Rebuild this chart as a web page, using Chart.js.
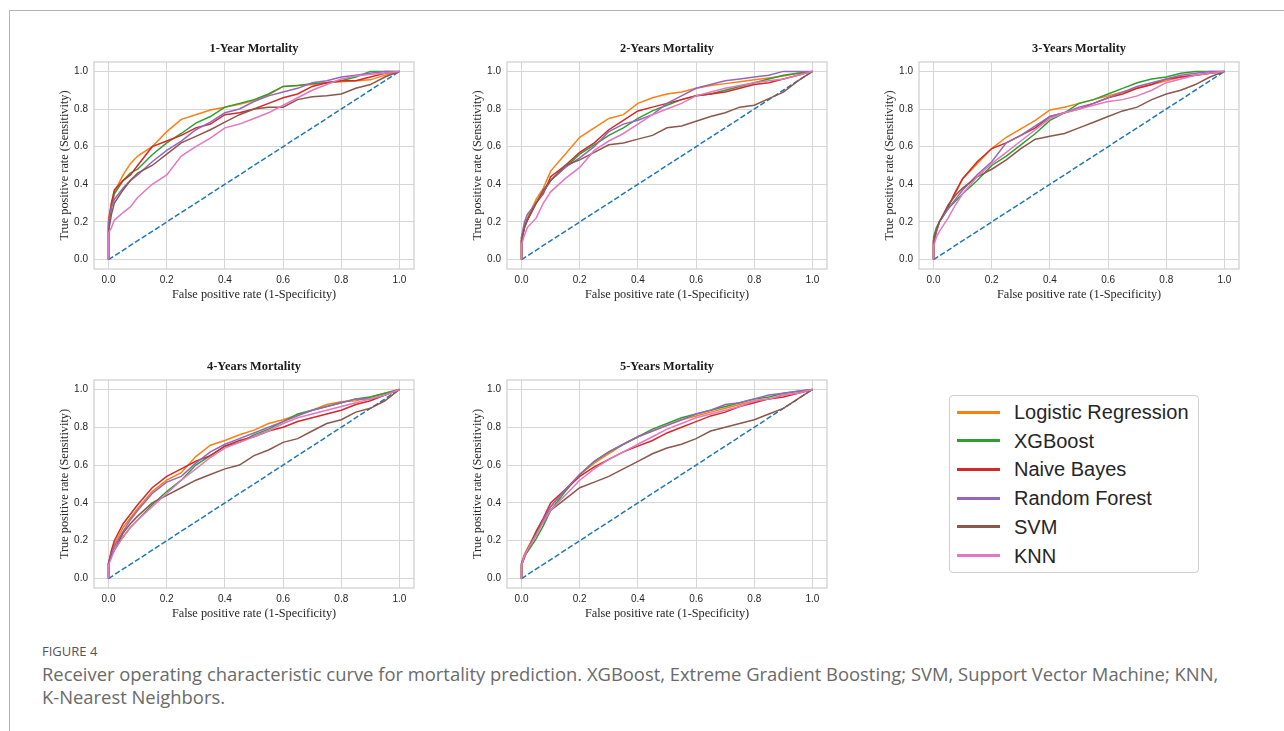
<!DOCTYPE html>
<html>
<head>
<meta charset="utf-8">
<script src="https://cdn.jsdelivr.net/npm/chart.js@4.4.1/dist/chart.umd.min.js"></script>
<style>
  html, body { margin:0; padding:0; background:#fff; }
  body { width:1284px; height:731px; position:relative; overflow:hidden; }
  #frame { position:absolute; left:9px; top:10px; right:0; bottom:0; border-top:1px solid #b4b4b4; border-left:1px solid #b4b4b4; }
  canvas { position:absolute; }
  #legend { position:absolute; left:949px; top:395px; width:248px; height:176px; border:1px solid #cfcfcf; border-radius:4px; background:#fff; }
  .lrow { position:absolute; left:0; height:24px; width:248px; }
  .lsw { position:absolute; left:7px; top:10.5px; width:43px; height:3px; }
  .ltx { position:absolute; left:64px; top:0; line-height:24px; font-family:"Liberation Sans", Arial, sans-serif; font-size:20px; color:#262626; white-space:nowrap; }
  #figlab { position:absolute; left:42px; top:643px; font-family:"Open Sans", sans-serif; font-size:13px; line-height:16px; color:#555; }
  #caption { position:absolute; left:42px; top:662px; font-family:"Open Sans", sans-serif; font-size:18.4px; line-height:23px; color:#6a6a6a; white-space:nowrap; }
</style>
</head>
<body>
<div id="frame"></div>
<div id="legend"></div>
<div id="figlab">FIGURE 4</div>
<div id="caption">Receiver operating characteristic curve for mortality prediction. XGBoost, Extreme Gradient Boosting; SVM, Support Vector Machine; KNN,<br>K-Nearest Neighbors.</div>
<script>
// ---------------- DATA ----------------
const MODELS = ["Logistic Regression", "XGBoost", "Naive Bayes", "Random Forest", "SVM", "KNN"];
const TITLES = ["1-Year Mortality", "2-Years Mortality", "3-Years Mortality", "4-Years Mortality", "5-Years Mortality"];
const X_LABEL = "False positive rate (1-Specificity)";
const Y_LABEL = "True positive rate (Sensitivity)";
const TICKS = [0, 0.2, 0.4, 0.6, 0.8, 1.0];
const CHANCE_X = [0, 1];
const CHANCE_Y = [0, 1];

// shared false-positive-rate grid (first point is the origin)
const FPR = [0, 0, 0.01, 0.02, 0.05, 0.075, 0.1, 0.15, 0.2, 0.25, 0.3, 0.35, 0.4, 0.45, 0.5, 0.55, 0.6, 0.65, 0.7, 0.75, 0.8, 0.85, 0.9, 0.95, 1.0];

// 1-Year
const Y1_LR  = [0, 0.22, 0.30, 0.36, 0.45, 0.51, 0.55, 0.60, 0.68, 0.745, 0.77, 0.795, 0.81, 0.825, 0.845, 0.875, 0.92, 0.925, 0.93, 0.94, 0.945, 0.95, 0.955, 0.98, 1.0];
const Y1_XGB = [0, 0.18, 0.28, 0.35, 0.42, 0.46, 0.48, 0.557, 0.62, 0.67, 0.725, 0.76, 0.81, 0.83, 0.85, 0.88, 0.92, 0.925, 0.935, 0.94, 0.95, 0.97, 1.0, 1.0, 1.0];
const Y1_NB  = [0, 0.20, 0.30, 0.37, 0.42, 0.45, 0.50, 0.60, 0.63, 0.66, 0.70, 0.72, 0.77, 0.78, 0.80, 0.83, 0.86, 0.88, 0.92, 0.94, 0.95, 0.95, 0.97, 0.99, 1.0];
const Y1_RF  = [0, 0.20, 0.28, 0.32, 0.38, 0.42, 0.45, 0.52, 0.58, 0.63, 0.69, 0.73, 0.78, 0.80, 0.84, 0.87, 0.89, 0.91, 0.94, 0.95, 0.97, 0.98, 0.99, 1.0, 1.0];
const Y1_SVM = [0, 0.15, 0.24, 0.30, 0.37, 0.42, 0.46, 0.50, 0.56, 0.62, 0.655, 0.69, 0.73, 0.77, 0.80, 0.81, 0.81, 0.85, 0.865, 0.87, 0.88, 0.91, 0.93, 0.97, 1.0];
const Y1_KNN = [0, 0.14, 0.17, 0.21, 0.25, 0.28, 0.33, 0.40, 0.45, 0.55, 0.60, 0.645, 0.70, 0.72, 0.75, 0.78, 0.82, 0.86, 0.90, 0.93, 0.96, 0.975, 0.985, 0.99, 1.0];

// 2-Years
const Y2_LR  = [0, 0.12, 0.18, 0.22, 0.32, 0.38, 0.47, 0.56, 0.65, 0.70, 0.75, 0.77, 0.83, 0.86, 0.88, 0.89, 0.91, 0.925, 0.935, 0.945, 0.955, 0.965, 0.975, 0.99, 1.0];
const Y2_XGB = [0, 0.12, 0.17, 0.21, 0.30, 0.36, 0.42, 0.49, 0.56, 0.61, 0.66, 0.70, 0.75, 0.79, 0.82, 0.85, 0.87, 0.88, 0.90, 0.92, 0.94, 0.96, 0.98, 0.99, 1.0];
const Y2_NB  = [0, 0.10, 0.17, 0.21, 0.30, 0.35, 0.44, 0.50, 0.57, 0.62, 0.69, 0.74, 0.79, 0.81, 0.83, 0.85, 0.87, 0.88, 0.89, 0.91, 0.93, 0.94, 0.96, 0.98, 1.0];
const Y2_RF  = [0, 0.12, 0.20, 0.24, 0.30, 0.36, 0.42, 0.49, 0.54, 0.60, 0.68, 0.72, 0.74, 0.77, 0.83, 0.87, 0.91, 0.93, 0.95, 0.96, 0.97, 0.98, 1.0, 1.0, 1.0];
const Y2_SVM = [0, 0.10, 0.17, 0.21, 0.30, 0.37, 0.42, 0.50, 0.53, 0.57, 0.61, 0.62, 0.64, 0.66, 0.70, 0.71, 0.735, 0.76, 0.78, 0.81, 0.82, 0.855, 0.89, 0.95, 1.0];
const Y2_KNN = [0, 0.08, 0.13, 0.17, 0.22, 0.30, 0.36, 0.43, 0.49, 0.58, 0.63, 0.67, 0.72, 0.77, 0.80, 0.83, 0.87, 0.89, 0.91, 0.925, 0.94, 0.95, 0.96, 0.98, 1.0];

// 3-Years
const Y3_LR  = [0, 0.10, 0.16, 0.20, 0.28, 0.35, 0.43, 0.51, 0.59, 0.65, 0.695, 0.74, 0.795, 0.81, 0.83, 0.85, 0.87, 0.89, 0.91, 0.93, 0.95, 0.97, 0.98, 0.99, 1.0];
const Y3_XGB = [0, 0.12, 0.17, 0.20, 0.27, 0.31, 0.35, 0.42, 0.50, 0.55, 0.61, 0.67, 0.74, 0.78, 0.83, 0.85, 0.88, 0.91, 0.94, 0.96, 0.97, 0.99, 1.0, 1.0, 1.0];
const Y3_NB  = [0, 0.08, 0.15, 0.20, 0.28, 0.36, 0.43, 0.52, 0.59, 0.62, 0.66, 0.70, 0.76, 0.78, 0.80, 0.83, 0.86, 0.88, 0.91, 0.93, 0.96, 0.97, 0.98, 0.99, 1.0];
const Y3_RF  = [0, 0.10, 0.15, 0.20, 0.27, 0.32, 0.37, 0.45, 0.52, 0.62, 0.66, 0.71, 0.76, 0.78, 0.81, 0.83, 0.86, 0.89, 0.92, 0.94, 0.96, 0.98, 0.99, 1.0, 1.0];
const Y3_SVM = [0, 0.10, 0.16, 0.20, 0.29, 0.34, 0.38, 0.44, 0.48, 0.53, 0.59, 0.64, 0.655, 0.67, 0.70, 0.73, 0.76, 0.79, 0.81, 0.85, 0.88, 0.90, 0.93, 0.97, 1.0];
const Y3_KNN = [0, 0.07, 0.12, 0.15, 0.22, 0.29, 0.35, 0.44, 0.51, 0.57, 0.63, 0.69, 0.75, 0.78, 0.80, 0.82, 0.84, 0.85, 0.87, 0.90, 0.94, 0.96, 0.98, 0.99, 1.0];

// 4-Years
const Y4_LR  = [0, 0.08, 0.14, 0.18, 0.27, 0.32, 0.37, 0.46, 0.52, 0.56, 0.645, 0.705, 0.73, 0.76, 0.785, 0.82, 0.84, 0.865, 0.89, 0.92, 0.935, 0.94, 0.96, 0.98, 1.0];
const Y4_XGB = [0, 0.08, 0.12, 0.15, 0.22, 0.27, 0.31, 0.39, 0.46, 0.52, 0.60, 0.65, 0.70, 0.72, 0.76, 0.79, 0.83, 0.87, 0.89, 0.91, 0.93, 0.95, 0.96, 0.98, 1.0];
const Y4_NB  = [0, 0.08, 0.15, 0.20, 0.29, 0.34, 0.39, 0.48, 0.54, 0.58, 0.62, 0.65, 0.70, 0.73, 0.75, 0.78, 0.80, 0.83, 0.85, 0.87, 0.89, 0.92, 0.94, 0.97, 1.0];
const Y4_RF  = [0, 0.08, 0.13, 0.17, 0.25, 0.31, 0.36, 0.45, 0.51, 0.54, 0.61, 0.67, 0.71, 0.74, 0.77, 0.80, 0.83, 0.86, 0.89, 0.91, 0.93, 0.95, 0.95, 0.97, 1.0];
const Y4_SVM = [0, 0.08, 0.12, 0.15, 0.24, 0.29, 0.33, 0.40, 0.44, 0.48, 0.52, 0.55, 0.58, 0.60, 0.65, 0.68, 0.72, 0.74, 0.78, 0.82, 0.84, 0.88, 0.90, 0.94, 1.0];
const Y4_KNN = [0, 0.07, 0.11, 0.15, 0.22, 0.27, 0.31, 0.38, 0.45, 0.52, 0.58, 0.64, 0.69, 0.72, 0.75, 0.78, 0.82, 0.85, 0.87, 0.89, 0.91, 0.93, 0.95, 0.97, 1.0];

// 5-Years
const Y5_LR  = [0, 0.08, 0.13, 0.16, 0.24, 0.31, 0.38, 0.47, 0.55, 0.61, 0.66, 0.71, 0.75, 0.78, 0.81, 0.84, 0.86, 0.88, 0.90, 0.92, 0.94, 0.95, 0.97, 0.98, 1.0];
const Y5_XGB = [0, 0.07, 0.12, 0.14, 0.21, 0.28, 0.36, 0.46, 0.55, 0.62, 0.67, 0.71, 0.75, 0.79, 0.82, 0.85, 0.87, 0.89, 0.91, 0.93, 0.95, 0.96, 0.98, 0.99, 1.0];
const Y5_NB  = [0, 0.08, 0.12, 0.15, 0.25, 0.32, 0.40, 0.47, 0.54, 0.59, 0.63, 0.67, 0.70, 0.73, 0.77, 0.80, 0.83, 0.86, 0.88, 0.91, 0.93, 0.95, 0.96, 0.98, 1.0];
const Y5_RF  = [0, 0.08, 0.12, 0.15, 0.23, 0.31, 0.38, 0.47, 0.55, 0.62, 0.67, 0.71, 0.75, 0.78, 0.81, 0.84, 0.87, 0.89, 0.92, 0.93, 0.95, 0.97, 0.98, 0.99, 1.0];
const Y5_SVM = [0, 0.07, 0.11, 0.15, 0.24, 0.30, 0.36, 0.42, 0.48, 0.51, 0.54, 0.58, 0.62, 0.66, 0.69, 0.71, 0.74, 0.78, 0.80, 0.82, 0.84, 0.87, 0.90, 0.95, 1.0];
const Y5_KNN = [0, 0.07, 0.12, 0.15, 0.23, 0.30, 0.36, 0.44, 0.52, 0.58, 0.63, 0.67, 0.71, 0.75, 0.79, 0.82, 0.85, 0.87, 0.89, 0.91, 0.94, 0.95, 0.97, 0.98, 1.0];

const SERIES = [
  [Y1_LR, Y1_XGB, Y1_NB, Y1_RF, Y1_SVM, Y1_KNN],
  [Y2_LR, Y2_XGB, Y2_NB, Y2_RF, Y2_SVM, Y2_KNN],
  [Y3_LR, Y3_XGB, Y3_NB, Y3_RF, Y3_SVM, Y3_KNN],
  [Y4_LR, Y4_XGB, Y4_NB, Y4_RF, Y4_SVM, Y4_KNN],
  [Y5_LR, Y5_XGB, Y5_NB, Y5_RF, Y5_SVM, Y5_KNN]
];

// ---------------- STYLE / LAYOUT ----------------
const COLORS = ["#ff7f0e", "#2ca02c", "#d62728", "#9467bd", "#8c564b", "#e377c2"];
const CHANCE_COLOR = "#1f77b4";
// chart-area boxes [left, top, right, bottom] in page pixels
const BOXES = [
  [94, 62, 414, 269],
  [507, 62, 827, 269],
  [919, 62, 1239, 269],
  [94, 380, 414, 588],
  [507, 380, 827, 588]
];
const Y_AXIS_W = 54, X_AXIS_H = 40, TITLE_H = 28, RIGHT_PAD = 10;
const SERIF = '"Liberation Serif", "Times New Roman", serif';
const SANS = '"Liberation Sans", Arial, sans-serif';
const INK = '#262626';
const GRID = '#d6d6d6';

const framePlugin = {
  id: 'frame',
  afterDatasetsDraw(chart) {
    const a = chart.chartArea, ctx = chart.ctx;
    ctx.save();
    ctx.strokeStyle = '#cfcfcf';
    ctx.lineWidth = 1.25;
    ctx.strokeRect(a.left, a.top, a.right - a.left, a.bottom - a.top);
    ctx.restore();
  }
};

function makeChart(i) {
  const [L, T, R, B] = BOXES[i];
  const cv = document.createElement('canvas');
  const w = R - L + Y_AXIS_W + RIGHT_PAD;
  const h = B - T + TITLE_H + X_AXIS_H;
  cv.width = w; cv.height = h;
  cv.style.left = (L - Y_AXIS_W) + 'px';
  cv.style.top = (T - TITLE_H) + 'px';
  cv.style.width = w + 'px'; cv.style.height = h + 'px';
  document.body.appendChild(cv);

  const datasets = [{
    label: 'chance',
    data: CHANCE_X.map((x, k) => ({x, y: CHANCE_Y[k]})),
    borderColor: CHANCE_COLOR, borderWidth: 1.5, borderDash: [5.5, 2.4],
    pointRadius: 0, fill: false, tension: 0, order: 20
  }];
  SERIES[i].forEach((arr, m) => {
    datasets.push({
      label: MODELS[m],
      data: FPR.map((x, k) => ({x, y: arr[k]})),
      borderColor: COLORS[m], borderWidth: 1.5,
      pointRadius: 0, fill: false, tension: 0, order: 10 - m
    });
  });

  const tickFont = {family: SANS, size: 10};
  const labFont = {family: SERIF, size: 12.3};
  new Chart(cv, {
    type: 'line',
    data: {datasets},
    options: {
      responsive: false, animation: false, devicePixelRatio: 1,
      layout: {padding: {left: 0, right: RIGHT_PAD, top: 0, bottom: 0}},
      plugins: {
        legend: {display: false}, tooltip: {enabled: false},
        title: {display: true, fullSize: false, text: TITLES[i], color: '#1a1a1a',
          font: {family: SERIF, size: 12.4, weight: 'bold'}, padding: {top: 7, bottom: 6.1}}
      },
      scales: {
        x: {
          type: 'linear', min: -0.05, max: 1.05,
          afterBuildTicks: s => { s.ticks = TICKS.map(v => ({value: v})); },
          afterFit: s => { s.height = X_AXIS_H; },
          grid: {color: GRID, lineWidth: 1, drawTicks: false},
          border: {display: false},
          ticks: {padding: 5, color: INK, font: tickFont, maxRotation: 0, autoSkip: false,
            callback: v => Number(v).toFixed(1)},
          title: {display: true, text: X_LABEL, color: INK, font: labFont, padding: {top: 0, bottom: 6.6}}
        },
        y: {
          type: 'linear', min: -0.05, max: 1.05,
          afterBuildTicks: s => { s.ticks = TICKS.map(v => ({value: v})); },
          afterFit: s => { s.width = Y_AXIS_W; },
          grid: {color: GRID, lineWidth: 1, drawTicks: false},
          border: {display: false},
          ticks: {padding: 6, color: INK, font: tickFont, autoSkip: false,
            callback: v => Number(v).toFixed(1)},
          title: {display: true, text: Y_LABEL, color: INK, font: labFont, padding: {top: 17.6, bottom: 0}}
        }
      }
    },
    plugins: [framePlugin]
  });
}

for (let i = 0; i < BOXES.length; i++) makeChart(i);

// legend (built from MODELS / COLORS)
const lg = document.getElementById('legend');
MODELS.forEach((name, m) => {
  const row = document.createElement('div');
  row.className = 'lrow';
  row.style.top = (4 + m * 28.7) + 'px';
  row.innerHTML = '<div class="lsw" style="background:' + COLORS[m] + '"></div><div class="ltx">' + name + '</div>';
  lg.appendChild(row);
});
</script>
</body>
</html>
